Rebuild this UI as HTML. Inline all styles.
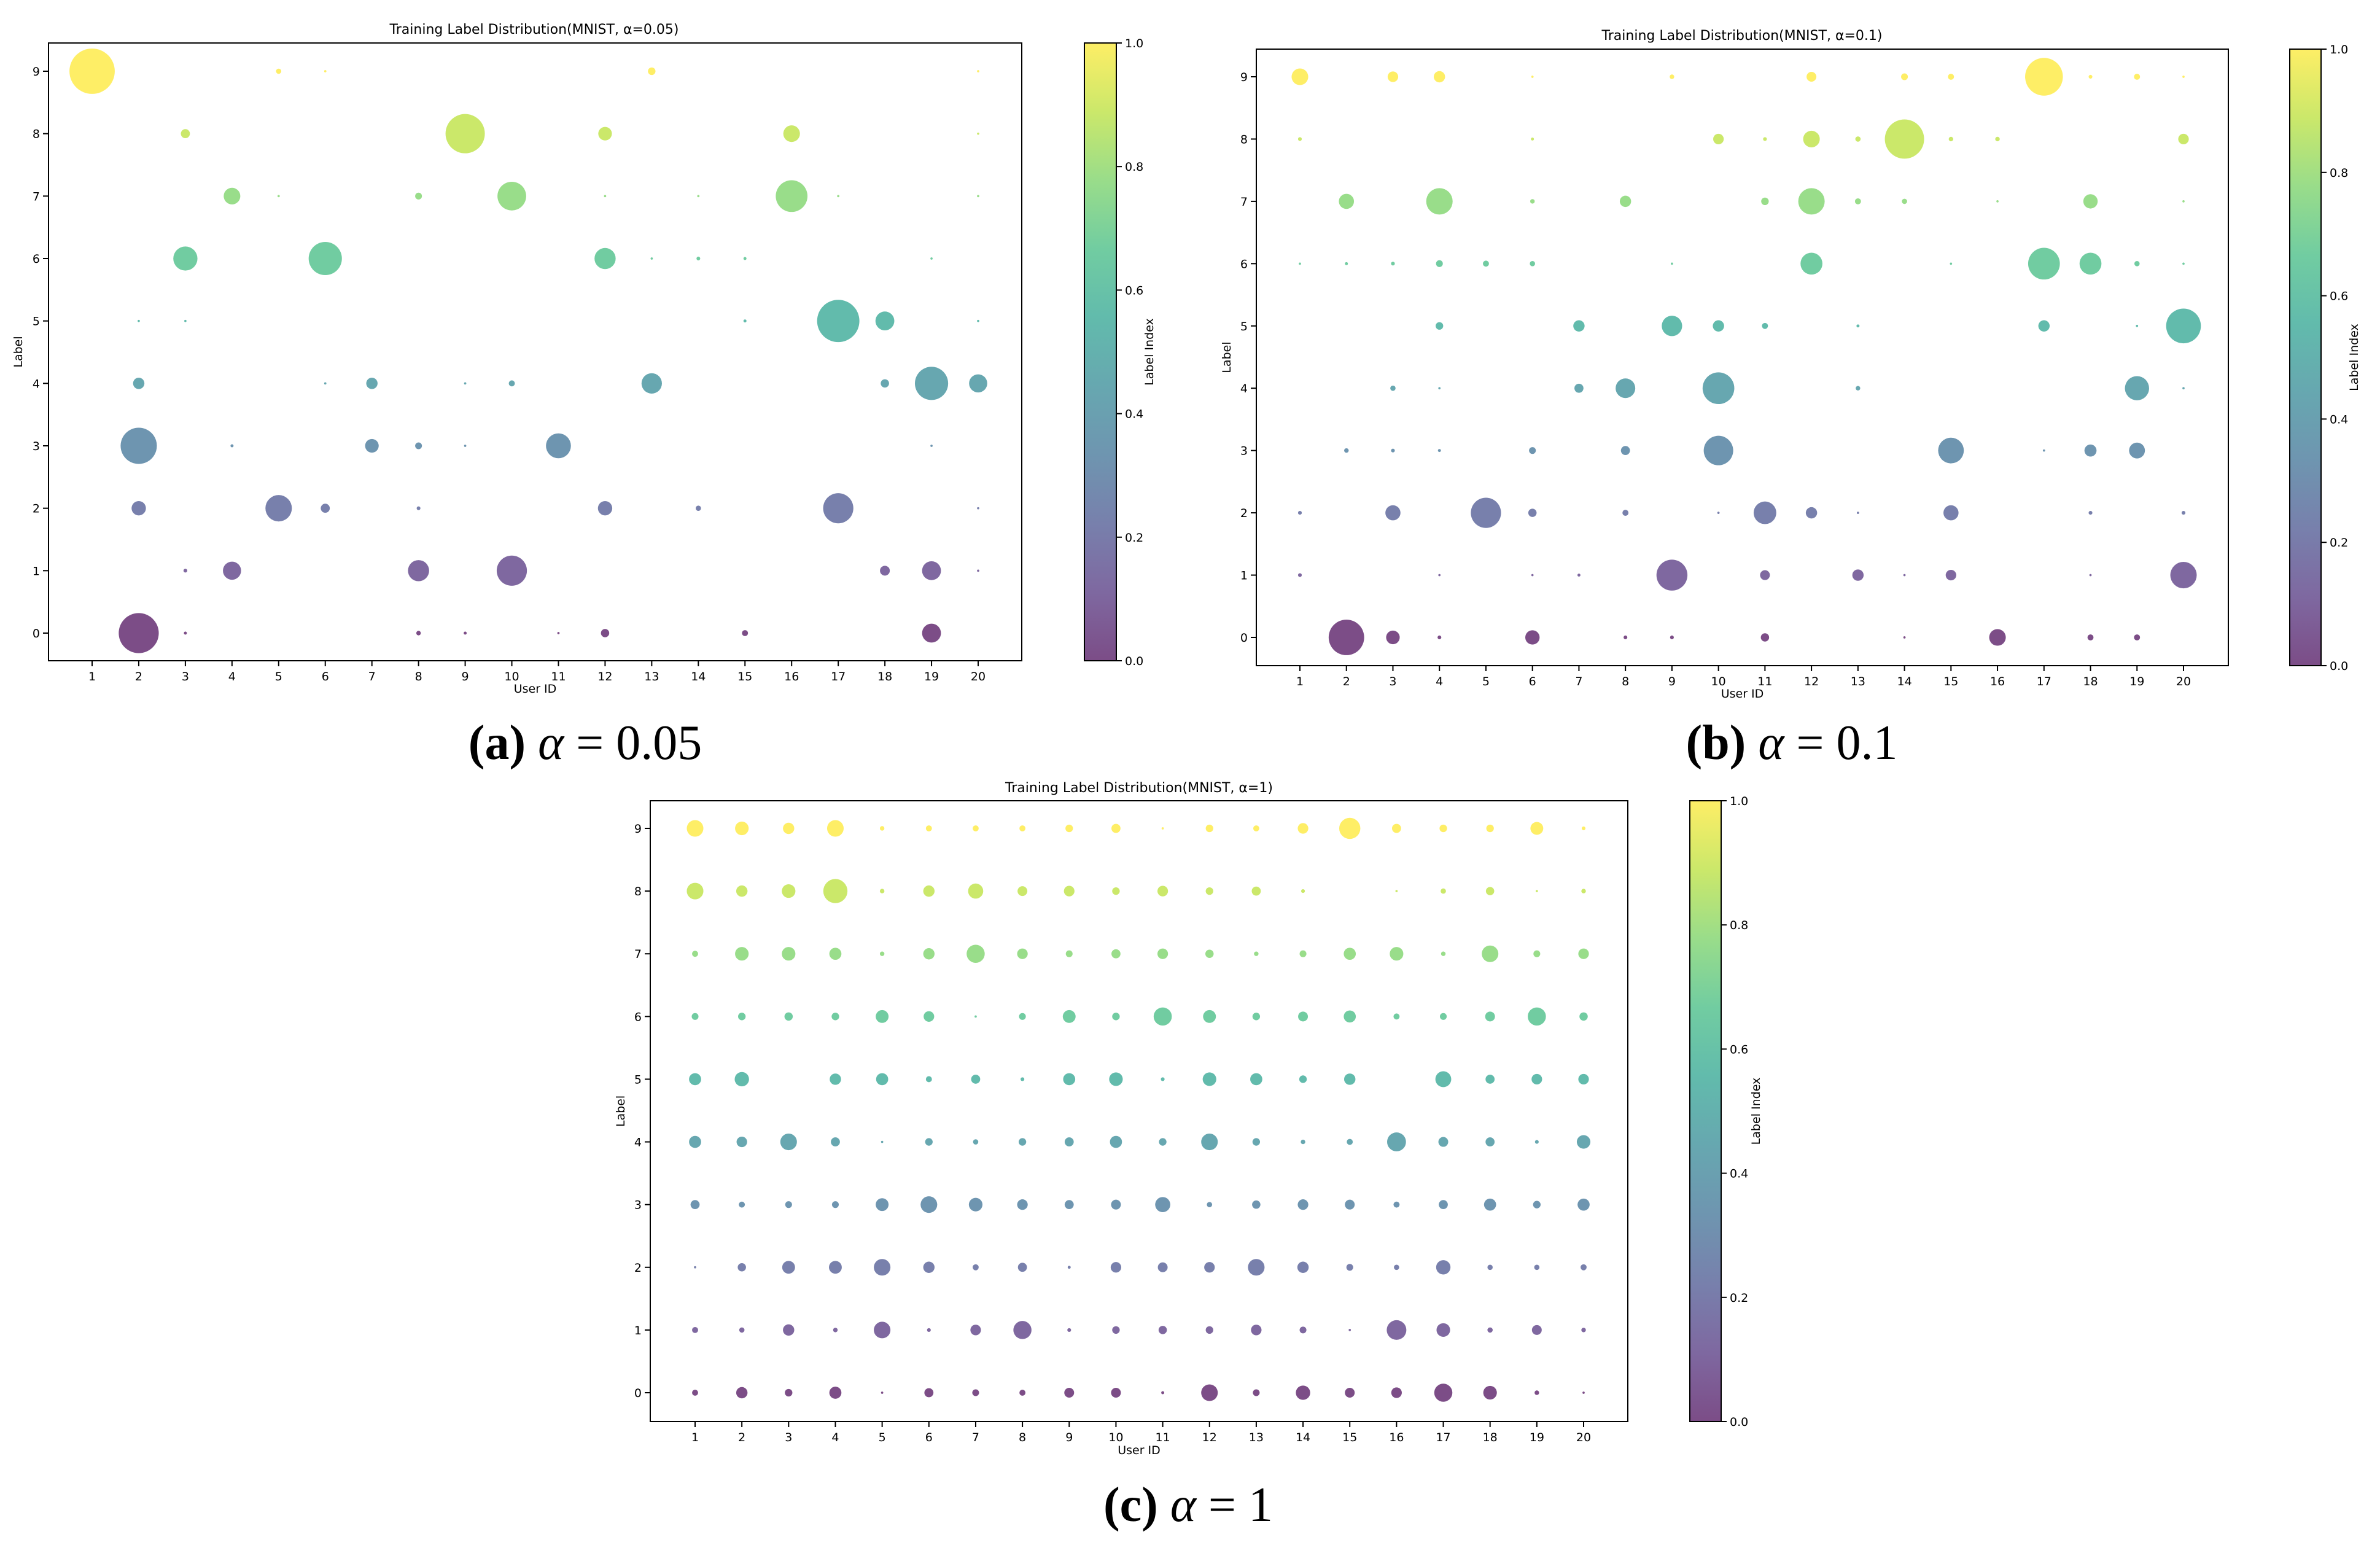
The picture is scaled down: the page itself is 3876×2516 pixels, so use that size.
<!DOCTYPE html>
<html><head><meta charset="utf-8"><style>
html,body{margin:0;padding:0;background:#fff;}
svg{display:block;}
text{font-family:"DejaVu Sans","Liberation Sans",sans-serif;fill:#000;}
.cap{font-family:"Liberation Serif",serif;}
</style></head><body>
<svg id="fig" xmlns="http://www.w3.org/2000/svg" width="3876" height="2516" viewBox="0 0 3876 2516">
<rect width="3876" height="2516" fill="#fff"/>
<defs>
<linearGradient id="vir" x1="0" y1="1" x2="0" y2="0">
<stop offset="0" stop-color="#440154"/><stop offset="0.111" stop-color="#482878"/><stop offset="0.222" stop-color="#3e4a89"/><stop offset="0.333" stop-color="#31688e"/><stop offset="0.444" stop-color="#26828e"/><stop offset="0.556" stop-color="#1f9e89"/><stop offset="0.667" stop-color="#35b779"/><stop offset="0.778" stop-color="#6ece58"/><stop offset="0.889" stop-color="#b5de2b"/><stop offset="1" stop-color="#fde725"/>
</linearGradient>
</defs>
<text class="cap" x="953" y="1236" text-anchor="middle" font-size="80"><tspan font-weight="bold">(a)</tspan> <tspan font-style="italic">α</tspan> = 0.05</text>
<text class="cap" x="2918" y="1236" text-anchor="middle" font-size="80"><tspan font-weight="bold">(b)</tspan> <tspan font-style="italic">α</tspan> = 0.1</text>
<text class="cap" x="1935" y="2477" text-anchor="middle" font-size="80"><tspan font-weight="bold">(c)</tspan> <tspan font-style="italic">α</tspan> = 1</text>
</svg>
<script>
// Shared axis tick labels
const userIds = [1,2,3,4,5,6,7,8,9,10,11,12,13,14,15,16,17,18,19,20];
const labelTicks = [0,1,2,3,4,5,6,7,8,9];
const cbarTicks = [0.0,0.2,0.4,0.6,0.8,1.0];
const titles = ["Training Label Distribution(MNIST, α=0.05)","Training Label Distribution(MNIST, α=0.1)","Training Label Distribution(MNIST, α=1)"];
// Bubble sizes (diameter units), rows = label 9 down to 0, columns = users 1..20
const sizesA = [
[60,0,0,0,7,3,0,0,0,0,0,0,10,0,0,0,0,0,0,3],
[0,0,12,0,0,0,0,0,52,0,0,18,0,0,0,22,0,0,0,3],
[0,0,0,22,3,0,0,9,0,38,0,3,0,3,0,42,3,0,0,3],
[0,0,32,0,0,44,0,0,0,0,0,28,3,5,4,0,0,0,3,0],
[0,3,3,0,0,0,0,0,0,0,0,0,0,0,4,0,56,25,0,3],
[0,15,0,0,0,3,15,0,3,8,0,0,27,0,0,0,0,11,44,24],
[0,48,0,4,0,0,18,9,3,0,33,0,0,0,0,0,0,0,3,0],
[0,19,0,0,35,12,0,5,0,0,0,19,0,7,0,0,40,0,0,3],
[0,0,5,24,0,0,0,28,0,40,0,0,0,0,0,0,0,13,25,3],
[0,53,4,0,0,0,0,6,4,0,3,11,0,0,8,0,0,0,25,0]];
const sizesB = [
[22,0,14,15,0,3,0,0,6,0,0,13,0,9,8,0,50,5,8,3],
[5,0,0,0,0,4,0,0,0,14,5,22,7,52,6,6,0,0,0,14],
[0,20,0,35,0,6,0,15,0,0,10,35,8,7,0,3,0,19,0,3],
[3,4,5,9,8,7,0,0,3,0,0,29,0,0,3,0,42,29,7,3],
[0,0,0,10,0,0,15,0,27,15,8,0,4,0,0,0,15,0,3,46],
[0,0,7,3,0,0,12,26,0,42,0,0,6,0,0,0,0,0,32,3],
[0,6,5,4,0,9,0,12,0,39,0,0,0,0,34,0,3,16,21,0],
[5,0,20,0,40,11,0,8,0,3,30,15,3,0,20,0,0,5,0,5],
[5,0,0,3,0,3,4,0,41,0,13,0,15,3,14,0,0,3,0,35],
[0,47,18,5,0,19,0,5,5,0,11,0,0,3,0,22,0,8,8,0]];
const sizesC = [
[22,18,15,22,6,8,8,8,10,12,3,10,8,14,28,12,10,10,17,5],
[22,15,18,32,6,15,20,13,14,10,14,10,12,5,0,3,7,11,3,6],
[8,18,18,16,6,15,24,14,9,12,14,11,6,9,16,18,6,22,9,14],
[9,10,11,10,17,14,3,9,17,10,24,17,10,13,16,8,9,13,24,11],
[16,19,0,15,16,8,12,5,16,18,5,18,16,10,15,0,21,12,14,14],
[16,14,22,12,3,10,7,10,12,16,10,22,10,6,8,25,13,12,5,18],
[12,8,9,9,17,22,18,14,12,13,20,7,11,14,13,8,12,16,10,16],
[3,11,17,17,22,15,8,12,4,14,13,14,22,15,9,7,19,7,7,8],
[8,7,15,6,22,5,14,24,5,10,11,10,14,9,3,26,18,7,13,6],
[8,15,10,16,3,12,9,8,13,13,4,22,9,19,13,14,24,18,6,3]];

const VIR = ["#440154","#482878","#3e4a89","#31688e","#26828e","#1f9e89","#35b779","#6ece58","#b5de2b","#fde725"];
const NS = "http://www.w3.org/2000/svg";
const svg = document.getElementById('fig');
function mk(tag, attrs, parent){const e=document.createElementNS(NS,tag);for(const k in attrs)e.setAttribute(k,attrs[k]);(parent||svg).appendChild(e);return e;}

const layouts = [
 {key:'a', L:79,R:1664,T:70,B:1076, x1:150,x20:1593, y0:1031,y9:116, cbL:1766,cbR:1818, titleY:55, titleX:870, xlabY:1128, ylabX:36, cbLabX:1878},
 {key:'b', L:2046,R:3629,T:80,B:1084, x1:2117,x20:3556, y0:1038,y9:125, cbL:3729,cbR:3780, titleY:65, titleX:2837, xlabY:1136, ylabX:2004, cbLabX:3840},
 {key:'c', L:1059,R:2651,T:1304,B:2315, x1:1132,x20:2579, y0:2268,y9:1349, cbL:2752,cbR:2803, titleY:1290, titleX:1855, xlabY:2368, ylabX:1017, cbLabX:2866}
];
const allSizes = [sizesA,sizesB,sizesC];

layouts.forEach((c,ci)=>{
  const g = mk('g',{});
  
  
  const xs = u => c.x1 + (u-1)*(c.x20-c.x1)/19;
  const ys = l => c.y0 + l*(c.y9-c.y0)/9;
  const rs = v => v*0.615;
  const data = allSizes[ci];
  // bubbles
  data.forEach((row,ri)=>{
    const label = 9-ri;
    row.forEach((v,ui)=>{
      if(v<=0) return;
      const ci2 = mk('circle',{cx:xs(userIds[ui]),cy:ys(label),r:rs(v),fill:VIR[label],'fill-opacity':0.7},g);
      
      
    });
  });
  // frame
  const fr = mk('rect',{x:c.L,y:c.T,width:c.R-c.L,height:c.B-c.T,fill:'none',stroke:'#000','stroke-width':2},g);
  
  
  // x ticks
  userIds.forEach(u=>{
    mk('line',{x1:xs(u),x2:xs(u),y1:c.B,y2:c.B+9,stroke:'#000','stroke-width':2},g);
    const t = mk('text',{x:xs(u),y:c.B+32,'text-anchor':'middle','font-size':19},g);
    t.textContent = u;
    
    
  });
  labelTicks.forEach(l=>{
    mk('line',{x1:c.L-9,x2:c.L,y1:ys(l),y2:ys(l),stroke:'#000','stroke-width':2},g);
    const t = mk('text',{x:c.L-14,y:ys(l)+7,'text-anchor':'end','font-size':19},g);
    t.textContent = l;
    
    
  });
  const ti = mk('text',{x:c.titleX,y:c.titleY,'text-anchor':'middle','font-size':22},g);
  ti.textContent = titles[ci];
  
  
  const xl = mk('text',{x:(c.L+c.R)/2,y:c.xlabY,'text-anchor':'middle','font-size':19},g);
  xl.textContent = 'User ID';
  
  
  const ym = (c.T+c.B)/2;
  const yl = mk('text',{x:c.ylabX,y:ym,'text-anchor':'middle','font-size':19,transform:'rotate(-90 '+c.ylabX+' '+ym+')'},g);
  yl.textContent = 'Label';
  
  
  // colorbar
  const cb = mk('rect',{x:c.cbL,y:c.T,width:c.cbR-c.cbL,height:c.B-c.T,fill:'url(#vir)','fill-opacity':0.7,stroke:'#000','stroke-width':2},g);
  
  
  const cys = v => c.B - v*(c.B-c.T);
  cbarTicks.forEach(v=>{
    mk('line',{x1:c.cbR,x2:c.cbR+9,y1:cys(v),y2:cys(v),stroke:'#000','stroke-width':2},g);
    const t = mk('text',{x:c.cbR+14,y:cys(v)+7,'font-size':19},g);
    t.textContent = v.toFixed(1);
    
    
  });
  const cl = mk('text',{x:c.cbLabX,y:ym,'text-anchor':'middle','font-size':19,transform:'rotate(-90 '+c.cbLabX+' '+ym+')'},g);
  cl.textContent = 'Label Index';
  
  
});
</script>
</body></html>
